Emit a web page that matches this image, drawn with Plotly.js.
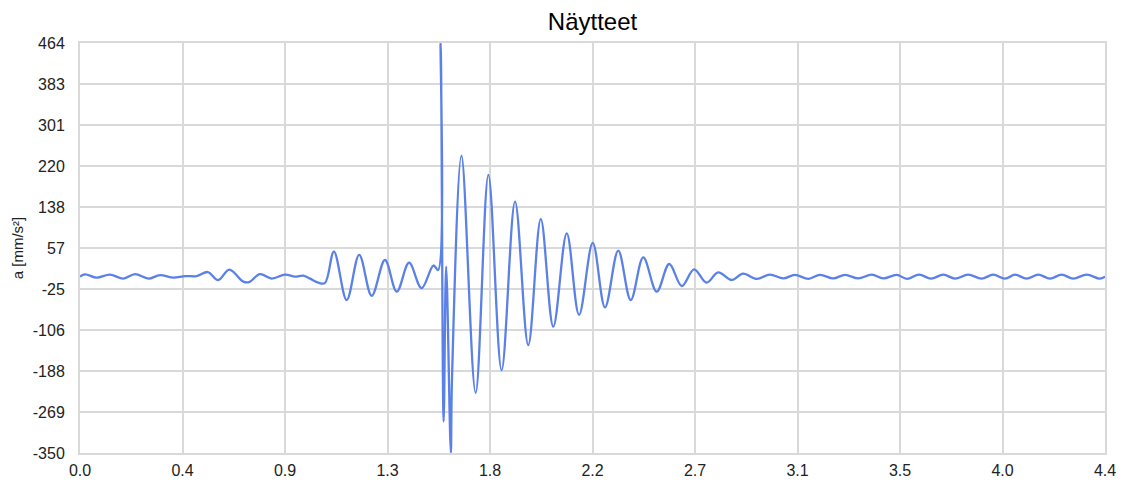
<!DOCTYPE html>
<html>
<head>
<meta charset="utf-8">
<script src="https://cdn.plot.ly/plotly-3.0.1.min.js"></script>
<style>
  html, body { margin: 0; padding: 0; background: #ffffff; }
  #chart { width: 1128px; height: 484px; }
</style>
</head>
<body>
<div id="chart"></div>
<script>
// Time axis (s) at peaks/troughs of the waveform
const timeS = [
  0.000, 0.022, 0.072, 0.129, 0.187, 0.237, 0.295, 0.345, 0.402, 0.453,
  0.503, 0.551, 0.596, 0.644, 0.704, 0.729, 0.776, 0.827, 0.884, 0.927,
  0.963, 0.992, 1.028, 1.056, 1.095, 1.150, 1.204, 1.258, 1.315, 1.366,
  1.419, 1.473, 1.524, 1.544, 1.555, 1.568, 1.579, 1.599, 1.604, 1.645,
  1.706, 1.761, 1.818, 1.876, 1.933, 1.987, 2.041, 2.099, 2.152, 2.211,
  2.264, 2.321, 2.375, 2.429, 2.487, 2.541, 2.595, 2.648, 2.702, 2.752,
  2.810, 2.859, 2.918, 2.975, 3.033, 3.083, 3.141, 3.191, 3.248, 3.299,
  3.356, 3.414, 3.464, 3.522, 3.566, 3.618, 3.670, 3.723, 3.773, 3.830,
  3.888, 3.938, 3.989, 4.032, 4.082, 4.132, 4.183, 4.233, 4.283, 4.341,
  4.398, 4.420
];

// Acceleration (mm/s²) at those times
const accel = [
  0, 4.5, -2, 4, -4, 5, -4, 3, -2, 1,
  1, 9, -7, 14, -10, -11, 5, -4, 4, 0,
  2, -4, -12, -13, 49.5, -46.5, 43, -38, 33, -30,
  27.6, -23, 22, 13, 464, -288, 20, -350, -205, 240,
  -231, 202, -186, 149, -136, 114, -99.5, 86, -76, 67,
  -61, 51.5, -46.5, 38, -30, 25, -18.7, 14.5, -12, 8.5,
  -6.7, 6, -4.5, 4, -3.5, 3.5, -4.5, 3.5, -3.5, 3.5,
  -3.5, 4, -3.5, 3.5, -4.5, 3.8, -4, 3.8, -4, 3.8,
  -4, 3.8, -4, 3.8, -4, 3.8, -4, 3.8, -4, 3.8,
  -4, 0
];

// Tick labels as printed on the chart
const xTickLabels = ['0.0', '0.4', '0.9', '1.3', '1.8', '2.2', '2.7', '3.1', '3.5', '4.0', '4.4'];
const yTickLabels = ['-350', '-269', '-188', '-106', '-25', '57', '138', '220', '301', '383', '464'];

const xMin = 0, xMax = 4.42;
const yMin = -350.4, yMax = 464.0;

const xTickVals = xTickLabels.map((_, i) => xMin + i * (xMax - xMin) / (xTickLabels.length - 1));
const yTickVals = yTickLabels.map((_, i) => yMin + i * (yMax - yMin) / (yTickLabels.length - 1));

const FONT = '"Liberation Sans", Arial, "DejaVu Sans", sans-serif';
const GRID = '#d9d9d9';

const trace = {
  x: timeS,
  y: accel,
  type: 'scatter',
  mode: 'lines',
  line: { color: '#5b80e8', width: 2.3, shape: 'spline', smoothing: 1 },
  hoverinfo: 'x+y'
};

const layout = {
  width: 1128,
  height: 484,
  margin: { l: 80, r: 23, t: 43, b: 31, pad: 0 },
  paper_bgcolor: '#ffffff',
  plot_bgcolor: '#ffffff',
  showlegend: false,
  font: { family: FONT, size: 16, color: '#222222' },
  title: {
    text: 'Näytteet',
    font: { family: FONT, size: 24, color: '#000000' },
    x: 0.5, xref: 'paper', xanchor: 'center',
    y: 1 - 22 / 484, yref: 'container', yanchor: 'middle'
  },
  xaxis: {
    range: [xMin, xMax],
    tickvals: xTickVals,
    ticktext: xTickLabels,
    showgrid: true, gridcolor: GRID, gridwidth: 2,
    zeroline: false,
    showline: true, linecolor: GRID, linewidth: 2, mirror: true,
    ticks: '',
    ticklabelstandoff: 2,
    tickfont: { family: FONT, size: 16, color: '#222222' },
    fixedrange: true
  },
  yaxis: {
    range: [yMin, yMax],
    tickvals: yTickVals,
    ticktext: yTickLabels,
    showgrid: true, gridcolor: GRID, gridwidth: 2,
    zeroline: false,
    showline: true, linecolor: GRID, linewidth: 2, mirror: true,
    ticks: '',
    ticklabelstandoff: 10,
    tickfont: { family: FONT, size: 16, color: '#222222' },
    title: {
      text: 'a [mm/s²]',
      font: { family: FONT, size: 15, color: '#222222' },
      standoff: 6
    },
    automargin: false,
    fixedrange: true
  }
};

Plotly.newPlot('chart', [trace], layout, { displayModeBar: false, staticPlot: true });
</script>
</body>
</html>
